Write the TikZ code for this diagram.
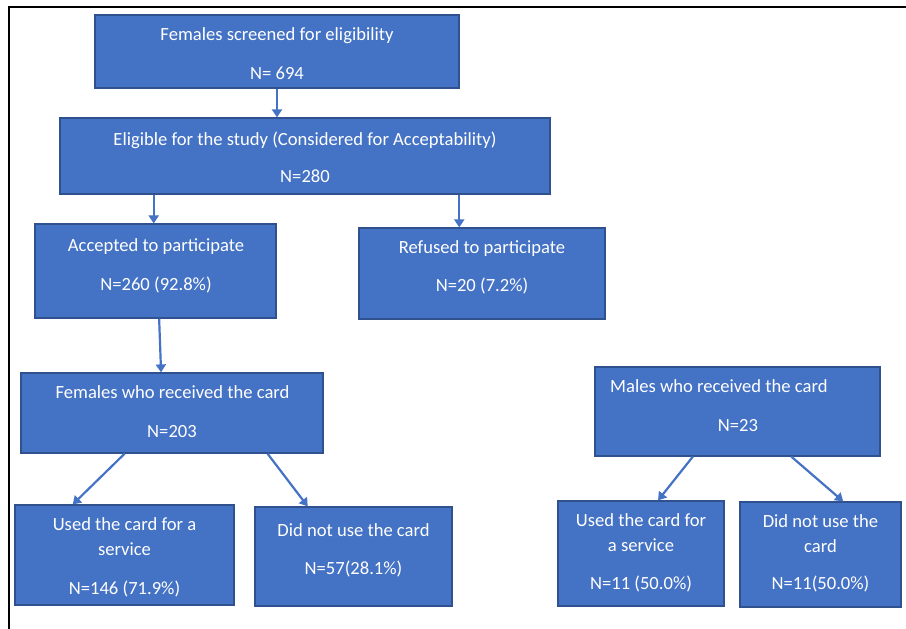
\documentclass[tikz,border=0pt]{standalone}
\usepackage{fontspec}
\setmainfont{Carlito}
\usetikzlibrary{arrows.meta,calc}
\definecolor{boxfill}{HTML}{4472C4}
\definecolor{boxedge}{HTML}{2F528F}
\definecolor{arrowc}{HTML}{4472C4}
\tikzset{
  box/.style={draw=boxedge, fill=boxfill, line width=1.2pt, inner sep=0pt, anchor=center},
  txt/.style={text=white, inner sep=0pt, anchor=base, font=\fontsize{18.6}{22}\selectfont},
  arr/.style={draw=arrowc, line width=2.2pt, -{Triangle[width=10pt,length=8pt]}},
  frame/.style={draw=black, line width=1.3pt}
}
\begin{document}
\begin{tikzpicture}[x=1pt,y=-1pt]
\useasboundingbox (0,0) rectangle (906,629);
\draw[frame] (9,629) -- (9,7) -- (906,7);
% boxes
\node[box, minimum width=364pt, minimum height=73pt] (b1) at (277,51.5) {};
\node[box, minimum width=490pt, minimum height=76pt] (b2) at (305,156) {};
\node[box, minimum width=241pt, minimum height=94pt] (b3) at (155.5,271) {};
\node[box, minimum width=246pt, minimum height=91pt] (b4) at (482,273.5) {};
\node[box, minimum width=302pt, minimum height=80pt] (b5) at (172,413) {};
\node[box, minimum width=285pt, minimum height=89pt] (b6) at (737.5,411.5) {};
\node[box, minimum width=219pt, minimum height=100pt] (b7) at (124.5,555) {};
\node[box, minimum width=197pt, minimum height=99pt] (b8) at (353.5,556.5) {};
\node[box, minimum width=166pt, minimum height=105pt] (b9) at (641,553.5) {};
\node[box, minimum width=161pt, minimum height=105pt] (b10) at (820.5,554.5) {};
% texts
\node[txt] (t1a) at (277,40.5) {Females screened for eligibility};
\node[txt] (t1b) at (277,79.5) {N= 694};
\node[txt] (t2a) at (305,145.5) {Eligible for the study (Considered for Acceptability)};
\node[txt] (t2b) at (305,182.5) {N=280};
\node[txt] (t3a) at (156,251.5) {Accepted to participate};
\node[txt] (t3b) at (156,290.5) {N=260 (92.8\%)};
\node[txt] (t4a) at (482,253.5) {Refused to participate};
\node[txt] (t4b) at (482,291.5) {N=20 (7.2\%)};
\node[txt] (t5a) at (172.5,398.5) {Females who received the card};
\node[txt] (t5b) at (172,437.5) {N=203};
\node[txt, anchor=base west] (t6a) at (610,392.5) {Males who received the card};
\node[txt] (t6b) at (738,431.5) {N=23};
\node[txt] (t7a) at (124.5,530.5) {Used the card for a};
\node[txt] (t7b) at (124.5,555.5) {service};
\node[txt] (t7c) at (124.5,594.5) {N=146 (71.9\%)};
\node[txt] (t8a) at (353.5,536.5) {Did not use the card};
\node[txt] (t8b) at (353.5,574.5) {N=57(28.1\%)};
\node[txt] (t9a) at (641,526.5) {Used the card for};
\node[txt] (t9b) at (641,551.5) {a service};
\node[txt] (t9c) at (641,589.5) {N=11 (50.0\%)};
\node[txt] (t10a) at (820.5,527.5) {Did not use the};
\node[txt] (t10b) at (820.5,552.5) {card};
\node[txt] (t10c) at (820.5,589.5) {N=11(50.0\%)};
% connectors
\draw[arr] (b1.south) -- (b1.south |- b2.north);
\coordinate (s2a) at ($(b2.south west)!0.192!(b2.south east)$);
\draw[arr] (s2a) -- (s2a |- b3.north);
\coordinate (s2b) at ($(b2.south west)!0.814!(b2.south east)$);
\draw[arr] (s2b) -- (s2b |- b4.north);
\draw[arr] ($(b3.south west)!0.515!(b3.south east)$) -- ($(b5.north west)!0.464!(b5.north east)$);
\draw[arr] ($(b5.south west)!0.344!(b5.south east)$) -- ($(b7.north west)!0.265!(b7.north east)$);
\draw[arr] ($(b5.south west)!0.815!(b5.south east)$) -- ($(b8.north west)!0.269!(b8.north east)$);
\draw[arr] ($(b6.south west)!0.344!(b6.south east)$) -- ($(b9.north west)!0.602!(b9.north east)$);
\draw[arr] ($(b6.south west)!0.688!(b6.south east)$) -- ($(b10.north west)!0.64!(b10.north east)$);
\end{tikzpicture}
\end{document}
